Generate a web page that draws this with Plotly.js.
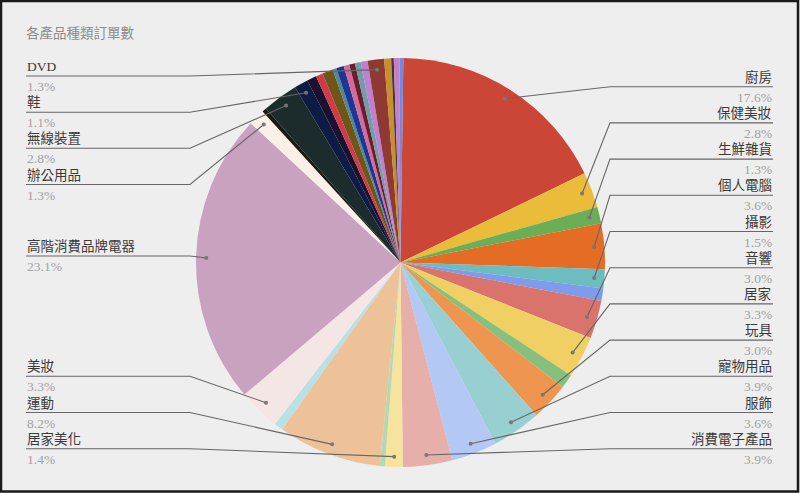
<!DOCTYPE html>
<html>
<head>
<meta charset="utf-8">
<script src="https://cdn.plot.ly/plotly-3.0.1.min.js"></script>
<style>
html,body{margin:0;padding:0;background:#eeeeee;}
#chart{width:800px;height:493px;}
</style>
</head>
<body>
<div id="chart"></div>
<script>
// ---------------- DATA ----------------
const chartTitle = '各產品種類訂單數';
const categories = [
  '廚房','保健美妝','生鮮雜貨','個人電腦','攝影','其他1','音響','居家','其他2','玩具',
  '寵物用品','服飾','消費電子產品','居家美化','其他3','運動','其他4','美妝','高階消費品牌電器','辦公用品',
  '其他5','無線裝置','鞋','其他6','其他7','其他8','其他9','其他10','其他11','其他12',
  '其他13','其他14','DVD','其他15','其他16','其他17','其他18'
];
const orderShare = [
  17.6, 2.8, 1.3, 3.6, 1.5, 1.0, 3.0, 3.3, 1.1, 3.0,
  3.9, 3.6, 3.9, 1.4, 0.4, 8.2, 0.7, 3.3, 23.1, 1.3,
  0.35, 2.8, 1.1, 0.75, 0.55, 0.85, 0.3, 0.6, 0.45, 0.45,
  0.45, 0.55, 1.3, 0.55, 0.2, 0.45, 0.3
];

// ---------------- STYLE / LAYOUT ----------------
const sliceColors = [
  '#CC4637','#EBBB3A','#6AAF57','#E46C25','#6CBCC0','#7E9CEB','#D9736C','#F0CF63','#86C07C','#EE9650',
  '#98D0D2','#B4C8F5','#E6AFA9','#F6E39E','#B5D8B0','#EEC298','#B8E1E6','#F3E6E4','#C8A2BE','#FAF0E8',
  '#1A1A10','#1C2B2B','#0E1B45','#1B1230','#D23A4A','#6E5518','#4E8A8F','#1E3595','#D56A9A','#6B1E2A',
  '#6E9FA8','#C07FD0','#8E3A33','#C98F2A','#3A3A3A','#C57FC9','#7A86D8'
];
const W = 800, H = 493;
const CX = 400.5, CY = 262.5, R = 204.5, ROT = 0.8, DOT_R = 0.95;
const rightSlots = ['廚房','保健美妝','生鮮雜貨','個人電腦','攝影','音響','居家','玩具','寵物用品','服飾','消費電子產品'];
const RIGHT_Y0 = 86.7, RIGHT_STEP = 36.2, RIGHT_X = 773, RIGHT_ELBOW = 610;
const leftSlotY = {'DVD':76,'鞋':112.2,'無線裝置':148.3,'辦公用品':184.5,'高階消費品牌電器':256,'美妝':376.3,'運動':412.5,'居家美化':448.7};
const LEFT_X = 26, LEFT_ELBOW = 190;
const FONT = "'Liberation Serif', 'Noto Sans CJK TC', serif";
const NAME_COLOR = '#3a3a3a', PCT_COLOR = '#a2a2a2', LINE_COLOR = '#666666';
const LABEL_SIZE = 13.5;

// helpers px -> paper
const px = x => x / W;
const py = y => 1 - y / H;

const total = orderShare.reduce((a, b) => a + b, 0);
let cum = 0;
const midAngle = {};
const pctText = {};
categories.forEach((c, i) => {
  const v = orderShare[i];
  midAngle[c] = (cum + v / 2) / total * 360 + ROT;
  pctText[c] = (v / total * 100).toFixed(1) + '%';
  cum += v;
});
function dotPos(c) {
  const a = midAngle[c] * Math.PI / 180;
  return [CX + DOT_R * R * Math.sin(a), CY - DOT_R * R * Math.cos(a)];
}

const shapes = [];
const annotations = [];
function addLabel(c, lineY, side) {
  const [dx, dy] = dotPos(c);
  let path;
  if (side === 'right') {
    path = `M ${px(dx)},${py(dy)} L ${px(RIGHT_ELBOW)},${py(lineY)} L ${px(RIGHT_X)},${py(lineY)}`;
  } else {
    path = `M ${px(LEFT_X)},${py(lineY)} L ${px(LEFT_ELBOW)},${py(lineY)} L ${px(dx)},${py(dy)}`;
  }
  shapes.push({type:'path', xref:'paper', yref:'paper', path, line:{color:LINE_COLOR, width:1.1}});
  shapes.push({type:'circle', xref:'paper', yref:'paper',
    x0:px(dx-2), x1:px(dx+2), y0:py(dy+2), y1:py(dy-2),
    fillcolor:'#777777', line:{width:0}});
  const ax = side === 'right' ? px(RIGHT_X) : px(LEFT_X);
  const xa = side === 'right' ? 'right' : 'left';
  annotations.push({xref:'paper', yref:'paper', x:ax, y:py(lineY - 1), xanchor:xa, yanchor:'bottom',
    text:c, showarrow:false, font:{family:FONT, size:LABEL_SIZE, color:NAME_COLOR}, borderpad:0});
  annotations.push({xref:'paper', yref:'paper', x:ax, y:py(lineY + 2), xanchor:xa, yanchor:'top',
    text:pctText[c], showarrow:false, font:{family:FONT, size:LABEL_SIZE, color:PCT_COLOR}, borderpad:0});
}
rightSlots.forEach((c, i) => addLabel(c, RIGHT_Y0 + i * RIGHT_STEP, 'right'));
Object.keys(leftSlotY).forEach(c => addLabel(c, leftSlotY[c], 'left'));

// frame
shapes.push({type:'rect', xref:'paper', yref:'paper', x0:px(1), x1:px(798), y0:py(1), y1:py(491.5),
  line:{color:'#1a1a1a', width:2.5}, fillcolor:'rgba(0,0,0,0)', layer:'above'});

const trace = {
  type:'pie',
  labels:categories,
  values:orderShare,
  sort:false,
  direction:'clockwise',
  rotation:ROT,
  textinfo:'none',
  hoverinfo:'label+percent',
  marker:{colors:sliceColors, line:{width:0}},
  domain:{x:[px(CX - R), px(CX + R)], y:[py(CY + R), py(CY - R)]},
  showlegend:false
};

const layout = {
  width:W, height:H,
  margin:{l:0, r:0, t:0, b:0},
  paper_bgcolor:'#eeeeee',
  plot_bgcolor:'#eeeeee',
  showlegend:false,
  title:{text:chartTitle, x:px(26), xanchor:'left', xref:'paper', y:py(33), yanchor:'middle',
    font:{family:FONT, size:13.5, color:'#8c8c8c'}},
  shapes, annotations
};

Plotly.newPlot('chart', [trace], layout, {displayModeBar:false, staticPlot:true});
</script>
</body>
</html>
